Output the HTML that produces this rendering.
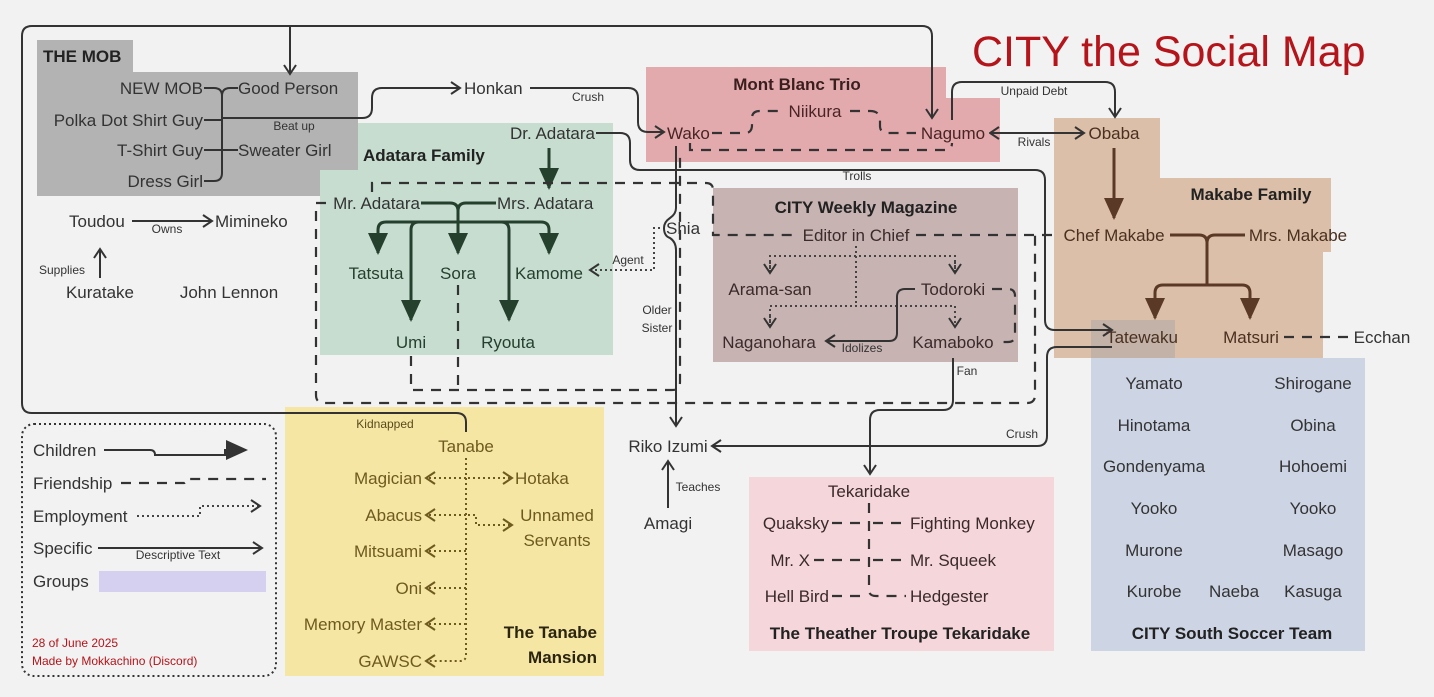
<!DOCTYPE html>
<html><head><meta charset="utf-8"><style>
html,body{margin:0;padding:0;background:#f2f2f2;}
svg{display:block;font-family:"Liberation Sans",sans-serif;}
.n{font-size:17px;fill:#333;}
.s{font-size:12px;fill:#333;}
.b{font-size:17px;font-weight:bold;fill:#222;}
.l{fill:none;stroke:#333;stroke-width:2;}
.d{fill:none;stroke:#333;stroke-width:2.2;stroke-dasharray:10 8;}
.o{fill:none;stroke:#444;stroke-width:2;stroke-dasharray:2 3;}
</style></head><body>
<svg width="1434" height="697" viewBox="0 0 1434 697">
<defs>
<marker id="a" markerWidth="12" markerHeight="14" refX="10" refY="7" orient="auto" markerUnits="userSpaceOnUse"><path d="M1,1 L10,7 L1,13" fill="none" stroke="#333" stroke-width="2"/></marker>
<marker id="ab" markerWidth="12" markerHeight="14" refX="1" refY="7" orient="auto" markerUnits="userSpaceOnUse"><path d="M10,1 L1,7 L10,13" fill="none" stroke="#333" stroke-width="2"/></marker>
<marker id="f" markerWidth="24" markerHeight="24" refX="20" refY="10" orient="auto" markerUnits="userSpaceOnUse"><path d="M0,0 L22,10 L0,20Z" fill="#26402e"/></marker>
<marker id="fb" markerWidth="24" markerHeight="24" refX="20" refY="10" orient="auto" markerUnits="userSpaceOnUse"><path d="M0,0 L22,10 L0,20Z" fill="#5a3a26"/></marker>
<marker id="fk" markerWidth="24" markerHeight="24" refX="20" refY="10" orient="auto" markerUnits="userSpaceOnUse"><path d="M0,0 L22,10 L0,20Z" fill="#333"/></marker>
<marker id="ay" markerWidth="12" markerHeight="14" refX="10" refY="7" orient="auto" markerUnits="userSpaceOnUse"><path d="M1,1 L10,7 L1,13" fill="none" stroke="#6e5a1e" stroke-width="2"/></marker>
</defs>
<rect width="1434" height="697" fill="#f2f2f2"/>
<g>
<rect x="37" y="40" width="96" height="32" fill="#b3b3b3"/>
<rect x="37" y="72" width="321" height="98" fill="#b3b3b3"/>
<rect x="37" y="170" width="283" height="26" fill="#b3b3b3"/>
<rect x="358" y="123" width="255" height="232" fill="#c6ddd0"/>
<rect x="320" y="170" width="38" height="185" fill="#c6ddd0"/>
<rect x="646" y="67" width="300" height="95" fill="#e3aaae"/>
<rect x="946" y="98" width="54" height="64" fill="#e3aaae"/>
<rect x="713" y="188" width="305" height="174" fill="#c8b3b3"/>
<rect x="1054" y="118" width="106" height="60" fill="#dcbfa9"/>
<rect x="1054" y="178" width="277" height="74" fill="#dcbfa9"/>
<rect x="1054" y="252" width="269" height="106" fill="#dcbfa9"/>
<rect x="1091" y="358" width="274" height="293" fill="#cdd4e4"/>
<rect x="1091" y="320" width="84" height="38" fill="#c2b2a8"/>
<rect x="285" y="407" width="319" height="269" fill="#f5e6a4"/>
<rect x="749" y="477" width="305" height="174" fill="#f5d6da"/>
<rect x="22" y="424" width="254" height="252" rx="12" fill="none" stroke="#333" stroke-width="2" stroke-dasharray="2 3"/>
</g>
<text x="972" y="66" font-size="43" fill="#b5141a">CITY the Social Map</text>
<path class="l" d="M466,432 V422 Q466,413 456,413 H32 Q22,413 22,403 V36 Q22,26 32,26 H922 Q932,26 932,36 V118" marker-end="url(#a)"/>
<path class="l" d="M290,26 V74" marker-end="url(#a)"/>
<text class="b" x="43" y="62">THE MOB</text>
<text class="n" x="203" y="94" text-anchor="end">NEW MOB</text>
<text class="n" x="238" y="94">Good Person</text>
<text class="n" x="203" y="126" text-anchor="end">Polka Dot Shirt Guy</text>
<text class="n" x="203" y="156" text-anchor="end">T-Shirt Guy</text>
<text class="n" x="238" y="156">Sweater Girl</text>
<text class="n" x="203" y="187" text-anchor="end">Dress Girl</text>
<text class="s" x="294" y="130" text-anchor="middle">Beat up</text>
<path class="l" stroke-width="3" d="M204,88 H214 Q222,88 222,96 V173 Q222,181 214,181 H204 M204,150 H222 M222,96 Q222,88 230,88 H238 M222,150 H238 M204,120 H222"/>
<path class="l" stroke-width="3" d="M222,118 H362 Q372,118 372,108 V98 Q372,88 382,88 H460" marker-end="url(#a)"/>
<text class="n" x="69" y="227">Toudou</text>
<path class="l" d="M132,221 H212" marker-end="url(#a)"/>
<text class="n" x="215" y="227">Mimineko</text>
<text class="s" x="167" y="233" text-anchor="middle">Owns</text>
<text class="n" x="100" y="298" text-anchor="middle">Kuratake</text>
<path class="l" d="M100,278 V249" marker-end="url(#a)"/>
<text class="s" x="62" y="274" text-anchor="middle">Supplies</text>
<text class="n" x="229" y="298" text-anchor="middle">John Lennon</text>
<text class="n" x="464" y="94">Honkan</text>
<path class="l" d="M530,88 H628 Q638,88 638,98 V122 Q638,132 648,132 H664" marker-end="url(#a)"/>
<text class="s" x="588" y="101" text-anchor="middle">Crush</text>
<text class="n" x="595" y="139" text-anchor="end">Dr. Adatara</text>
<path class="l" d="M596,133 H620 Q630,133 630,143 V160 Q630,170 640,170 H1035 Q1045,170 1045,180 V320 Q1045,330 1055,330 H1112" marker-end="url(#a)"/>
<text class="s" x="857" y="180" text-anchor="middle">Trolls</text>
<text class="b" x="363" y="161">Adatara Family</text>
<text class="n" x="420" y="209" text-anchor="end">Mr. Adatara</text>
<text class="n" x="497" y="209">Mrs. Adatara</text>
<path d="M549,148 V188" stroke="#26402e" stroke-width="3" fill="none" marker-end="url(#f)"/>
<g fill="none" stroke="#26402e" stroke-width="3">
<path d="M421,203 H450 Q458,203 458,211 M496,203 H466 Q458,203 458,211 V222"/>
<path d="M386,222 H541"/>
<path d="M386,222 Q378,222 378,230 V253" marker-end="url(#f)"/>
<path d="M541,222 Q549,222 549,230 V253" marker-end="url(#f)"/>
<path d="M458,222 V253" marker-end="url(#f)"/>
<path d="M419,222 Q411,222 411,230 V320" marker-end="url(#f)"/>
<path d="M501,222 Q509,222 509,230 V320" marker-end="url(#f)"/>
</g>
<text class="n" x="376" y="279" text-anchor="middle" style="fill:#26402e">Tatsuta</text>
<text class="n" x="458" y="279" text-anchor="middle" style="fill:#26402e">Sora</text>
<text class="n" x="549" y="279" text-anchor="middle" style="fill:#26402e">Kamome</text>
<text class="n" x="411" y="348" text-anchor="middle" style="fill:#26402e">Umi</text>
<text class="n" x="508" y="348" text-anchor="middle" style="fill:#26402e">Ryouta</text>
<path class="d" d="M326,203 H316 V395 Q316,403 324,403 H1027 Q1035,403 1035,395 V235"/>
<path class="d" d="M372,192 V183 H706 Q713,183 713,190 V235 H796 M916,235 H1058"/>
<path class="d" d="M411,356 V390 H672 Q680,390 680,382 V150"/>
<path class="d" d="M458,285 V390"/>
<text class="b" x="797" y="90" text-anchor="middle" style="fill:#3a1f1f">Mont Blanc Trio</text>
<text class="n" x="667" y="139" style="fill:#4a2424">Wako</text>
<text class="n" x="815" y="117" text-anchor="middle" style="fill:#4a2424">Niikura</text>
<text class="n" x="953" y="139" text-anchor="middle" style="fill:#4a2424">Nagumo</text>
<path class="d" d="M712,133 H745 Q752,133 752,125 V118 Q752,111 760,111 H780 M850,111 H870 Q880,111 880,120 V126 Q880,133 888,133 H916"/>
<path class="d" d="M690,143 V150 H945 Q952,150 952,143"/>
<path class="l" d="M990,133 H1084" marker-start="url(#ab)" marker-end="url(#a)"/>
<text class="s" x="1034" y="146" text-anchor="middle">Rivals</text>
<path class="l" d="M952,120 V92 Q952,82 962,82 H1105 Q1115,82 1115,92 V117" marker-end="url(#a)"/>
<text class="s" x="1034" y="95" text-anchor="middle">Unpaid Debt</text>
<path class="l" d="M676,146 V208 Q676,214 670,218 Q664,222 664,228 Q664,236 670,238 Q676,242 676,250 V426" marker-end="url(#a)"/>
<text class="n" x="666" y="234">Shia</text>
<text class="s" x="657" y="314" text-anchor="middle">Older</text>
<text class="s" x="657" y="332" text-anchor="middle">Sister</text>
<path class="o" d="M660,228 H654 V270 H590" marker-end="url(#a)"/>
<text class="s" x="628" y="264" text-anchor="middle">Agent</text>
<text class="n" x="668" y="452" text-anchor="middle">Riko Izumi</text>
<text class="n" x="668" y="529" text-anchor="middle">Amagi</text>
<path class="l" d="M668,508 V461" marker-end="url(#a)"/>
<text class="s" x="698" y="491" text-anchor="middle">Teaches</text>
<text class="b" x="866" y="213" text-anchor="middle">CITY Weekly Magazine</text>
<text class="n" x="856" y="241" text-anchor="middle" style="fill:#3a2a2a">Editor in Chief</text>
<text class="n" x="770" y="295" text-anchor="middle" style="fill:#3a2a2a">Arama-san</text>
<text class="n" x="953" y="295" text-anchor="middle" style="fill:#3a2a2a">Todoroki</text>
<text class="n" x="769" y="348" text-anchor="middle" style="fill:#3a2a2a">Naganohara</text>
<text class="n" x="953" y="348" text-anchor="middle" style="fill:#3a2a2a">Kamaboko</text>
<path class="o" d="M856,246 V305 M770,272 V256 H955 V272 M770,326 V306 H955 V326"/>
<path class="o" d="M770,262 V273" marker-end="url(#a)"/>
<path class="o" d="M955,262 V273" marker-end="url(#a)"/>
<path class="o" d="M770,316 V327" marker-end="url(#a)"/>
<path class="o" d="M955,316 V327" marker-end="url(#a)"/>
<path class="l" d="M915,289 H905 Q897,289 897,297 V333 Q897,341 889,341 H826" marker-end="url(#a)"/>
<text class="s" x="862" y="352" text-anchor="middle">Idolizes</text>
<path class="d" d="M992,289 H1008 Q1015,289 1015,296 V335 Q1015,342 1008,342 H998"/>
<path class="l" d="M953,358 V400 Q953,410 943,410 H880 Q870,410 870,420 V474" marker-end="url(#a)"/>
<text class="s" x="967" y="375" text-anchor="middle">Fan</text>
<text class="n" x="1114" y="139" text-anchor="middle" style="fill:#4a3020">Obaba</text>
<text class="b" x="1251" y="200" text-anchor="middle">Makabe Family</text>
<path d="M1114,148 V218" stroke="#5a3a26" stroke-width="3" fill="none" marker-end="url(#fb)"/>
<text class="n" x="1114" y="241" text-anchor="middle" style="fill:#4a3020">Chef Makabe</text>
<text class="n" x="1298" y="241" text-anchor="middle" style="fill:#4a3020">Mrs. Makabe</text>
<g fill="none" stroke="#5a3a26" stroke-width="3">
<path d="M1170,235 H1199 Q1207,235 1207,243 M1245,235 H1215 Q1207,235 1207,243 V285"/>
<path d="M1163,285 H1242"/>
<path d="M1163,285 Q1155,285 1155,293 V318" marker-end="url(#fb)"/>
<path d="M1242,285 Q1250,285 1250,293 V318" marker-end="url(#fb)"/>
</g>
<text class="n" x="1142" y="343" text-anchor="middle" style="fill:#4a3020">Tatewaku</text>
<text class="n" x="1251" y="343" text-anchor="middle" style="fill:#4a3020">Matsuri</text>
<text class="n" x="1382" y="343" text-anchor="middle">Ecchan</text>
<path class="d" d="M1284,337 H1352"/>
<path class="l" d="M1112,347 H1057 Q1047,347 1047,357 V436 Q1047,446 1037,446 H712" marker-end="url(#a)"/>
<text class="s" x="1022" y="438" text-anchor="middle">Crush</text>
<g style="fill:#2e3446">
<text class="n" x="1154" y="389" text-anchor="middle">Yamato</text><text class="n" x="1313" y="389" text-anchor="middle">Shirogane</text>
<text class="n" x="1154" y="431" text-anchor="middle">Hinotama</text><text class="n" x="1313" y="431" text-anchor="middle">Obina</text>
<text class="n" x="1154" y="472" text-anchor="middle">Gondenyama</text><text class="n" x="1313" y="472" text-anchor="middle">Hohoemi</text>
<text class="n" x="1154" y="514" text-anchor="middle">Yooko</text><text class="n" x="1313" y="514" text-anchor="middle">Yooko</text>
<text class="n" x="1154" y="556" text-anchor="middle">Murone</text><text class="n" x="1313" y="556" text-anchor="middle">Masago</text>
<text class="n" x="1154" y="597" text-anchor="middle">Kurobe</text><text class="n" x="1234" y="597" text-anchor="middle">Naeba</text><text class="n" x="1313" y="597" text-anchor="middle">Kasuga</text>
</g>
<text class="b" x="1232" y="639" text-anchor="middle">CITY South Soccer Team</text>
<text class="s" x="385" y="428" text-anchor="middle" style="fill:#5a4a1a">Kidnapped</text>
<text class="n" x="466" y="452" text-anchor="middle" style="fill:#6e5a1e">Tanabe</text>
<text class="n" x="422" y="484" text-anchor="end" style="fill:#6e5a1e">Magician</text>
<text class="n" x="422" y="521" text-anchor="end" style="fill:#6e5a1e">Abacus</text>
<text class="n" x="422" y="557" text-anchor="end" style="fill:#6e5a1e">Mitsuami</text>
<text class="n" x="422" y="594" text-anchor="end" style="fill:#6e5a1e">Oni</text>
<text class="n" x="422" y="630" text-anchor="end" style="fill:#6e5a1e">Memory Master</text>
<text class="n" x="422" y="667" text-anchor="end" style="fill:#6e5a1e">GAWSC</text>
<text class="n" x="515" y="484" style="fill:#6e5a1e">Hotaka</text>
<text class="n" x="557" y="521" text-anchor="middle" style="fill:#6e5a1e">Unnamed</text>
<text class="n" x="557" y="546" text-anchor="middle" style="fill:#6e5a1e">Servants</text>
<text class="b" x="597" y="638" text-anchor="end" style="fill:#2a2410">The Tanabe</text>
<text class="b" x="597" y="663" text-anchor="end" style="fill:#2a2410">Mansion</text>
<g fill="none" stroke="#6e5a1e" stroke-width="2" stroke-dasharray="2 3">
<path d="M466,458 V655 Q466,661 460,661 H426" marker-end="url(#ay)"/>
<path d="M466,478 H426" marker-end="url(#ay)"/>
<path d="M466,515 H426" marker-end="url(#ay)"/>
<path d="M466,551 H426" marker-end="url(#ay)"/>
<path d="M466,588 H426" marker-end="url(#ay)"/>
<path d="M466,624 H426" marker-end="url(#ay)"/>
<path d="M468,478 H512" marker-end="url(#ay)"/>
<path d="M468,515 H476 V525 H512" marker-end="url(#ay)"/>
</g>
<text class="n" x="869" y="497" text-anchor="middle" style="fill:#3a2a2a">Tekaridake</text>
<text class="n" x="829" y="529" text-anchor="end" style="fill:#3a2a2a">Quaksky</text>
<text class="n" x="910" y="529" style="fill:#3a2a2a">Fighting Monkey</text>
<text class="n" x="810" y="566" text-anchor="end" style="fill:#3a2a2a">Mr. X</text>
<text class="n" x="910" y="566" style="fill:#3a2a2a">Mr. Squeek</text>
<text class="n" x="829" y="602" text-anchor="end" style="fill:#3a2a2a">Hell Bird</text>
<text class="n" x="910" y="602" style="fill:#3a2a2a">Hedgester</text>
<path class="d" d="M869,503 V590 Q869,596 876,596 H906 M832,523 H866 M873,523 H906 M814,560 H866 M873,560 H906 M832,596 H866"/>
<text class="b" x="900" y="639" text-anchor="middle">The Theather Troupe Tekaridake</text>
<text class="n" x="33" y="456">Children</text>
<path d="M104,450 H150 Q155,450 155,455 H225 V450 H246" stroke="#333" stroke-width="2" fill="none" marker-end="url(#fk)"/>
<text class="n" x="33" y="489">Friendship</text>
<path class="d" d="M121,483 H184 Q186,483 186,479 H266"/>
<text class="n" x="33" y="522">Employment</text>
<path class="o" d="M137,516 H200 V506 H260" marker-end="url(#a)"/>
<text class="n" x="33" y="554">Specific</text>
<path class="l" d="M98,548 H262" marker-end="url(#a)"/>
<text class="s" x="178" y="559" text-anchor="middle">Descriptive Text</text>
<text class="n" x="33" y="587">Groups</text>
<rect x="99" y="571" width="167" height="21" fill="#d6d0f0"/>
<text x="32" y="647" font-size="12" fill="#b5141a">28 of June 2025</text>
<text x="32" y="665" font-size="12" fill="#b5141a">Made by Mokkachino (Discord)</text>
</svg>
</body></html>
